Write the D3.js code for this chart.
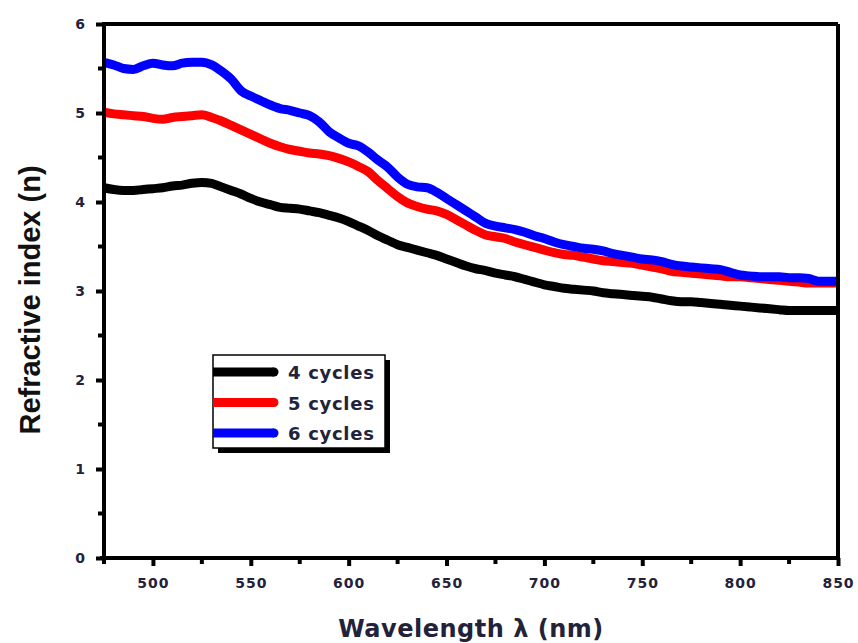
<!DOCTYPE html>
<html><head><meta charset="utf-8">
<script src="https://cdn.jsdelivr.net/npm/d3@7"></script>
<style>body{margin:0;background:#fff}svg{display:block}</style>
</head><body>
<svg id="c" width="858" height="643"></svg>
<script>
const wavelengths = d3.range(475, 851, 5);
const seriesNames = ["4 cycles", "5 cycles", "6 cycles"];
const seriesColors = ["#000000", "#ff0000", "#0000ff"];
const n4 = [4.16,4.14,4.13,4.13,4.14,4.15,4.16,4.18,4.19,4.21,4.22,4.21,4.17,4.13,4.09,4.04,4.00,3.97,3.94,3.93,3.92,3.90,3.88,3.85,3.82,3.78,3.73,3.68,3.62,3.57,3.52,3.49,3.46,3.43,3.40,3.36,3.32,3.28,3.25,3.23,3.20,3.18,3.16,3.13,3.10,3.07,3.05,3.03,3.02,3.01,3.00,2.98,2.97,2.96,2.95,2.94,2.93,2.91,2.89,2.88,2.88,2.87,2.86,2.85,2.84,2.83,2.82,2.81,2.80,2.79,2.78,2.78,2.78,2.78,2.78,2.78];
const n5 = [5.01,4.99,4.98,4.97,4.96,4.94,4.93,4.95,4.96,4.97,4.98,4.95,4.91,4.86,4.81,4.76,4.71,4.66,4.62,4.59,4.57,4.55,4.54,4.52,4.49,4.45,4.40,4.34,4.24,4.15,4.06,3.99,3.95,3.92,3.90,3.86,3.80,3.74,3.68,3.63,3.61,3.59,3.55,3.52,3.49,3.46,3.43,3.41,3.40,3.38,3.36,3.34,3.33,3.32,3.31,3.29,3.27,3.25,3.22,3.21,3.20,3.19,3.18,3.17,3.16,3.16,3.15,3.14,3.13,3.12,3.11,3.10,3.09,3.09,3.09,3.09];
const n6 = [5.57,5.54,5.50,5.49,5.53,5.56,5.54,5.53,5.56,5.57,5.57,5.54,5.47,5.38,5.25,5.19,5.14,5.09,5.05,5.03,5.00,4.97,4.90,4.79,4.72,4.66,4.63,4.56,4.47,4.39,4.28,4.20,4.17,4.16,4.11,4.04,3.97,3.90,3.83,3.76,3.73,3.71,3.69,3.66,3.62,3.59,3.55,3.52,3.50,3.48,3.47,3.45,3.42,3.40,3.38,3.36,3.35,3.33,3.30,3.28,3.27,3.26,3.25,3.24,3.21,3.18,3.17,3.16,3.16,3.16,3.15,3.15,3.14,3.11,3.11,3.11];
const xTicks = [500, 550, 600, 650, 700, 750, 800, 850];
const xMinor = [475, 525, 575, 625, 675, 725, 775, 825];
const yTicks = [0, 1, 2, 3, 4, 5, 6];
const yMinor = [0.5, 1.5, 2.5, 3.5, 4.5, 5.5];
const xTitle = "Wavelength λ (nm)";
const yTitle = "Refractive index (n)";

const svg = d3.select("#c");
const L = 104, R = 838, T = 24, B = 558;
const x = d3.scaleLinear().domain([475, 850]).range([L, R]);
const y = d3.scaleLinear().domain([0, 6]).range([B, T]);
const labelColor = "#22223a";
const tahoma = "'DejaVu Sans', Verdana, sans-serif";
const arial = "'Liberation Sans', Arial, sans-serif";

const series = [n4, n5, n6];
const line = d3.line().x(d => x(d[0])).y(d => y(d[1])).curve(d3.curveMonotoneX);
series.forEach((vals, i) => {
  svg.append("path").datum(wavelengths.map((w, j) => [w, vals[j]]))
    .attr("d", line).attr("fill", "none").attr("stroke", seriesColors[i])
    .attr("stroke-width", 9).attr("stroke-linejoin", "round");
});

// frame
svg.append("line").attr("x1", L).attr("x2", R).attr("y1", T).attr("y2", T).attr("stroke", "#000").attr("stroke-width", 4);
svg.append("line").attr("x1", R).attr("x2", R).attr("y1", T).attr("y2", B).attr("stroke", "#000").attr("stroke-width", 4);

const xAxis = svg.append("g").attr("transform", `translate(0,${B})`)
  .call(d3.axisBottom(x).tickValues(xTicks).tickSize(8).tickFormat(d3.format("d")));
xAxis.select(".domain").attr("stroke-width", 4).attr("d", `M${L - 4},0H${R + 2}`);
xAxis.selectAll(".tick line").attr("stroke-width", 4);
xAxis.selectAll(".tick text").attr("y", 20).attr("dy", "0.71em").style("font-family", tahoma)
  .style("font-size", "14px").style("font-weight", "bold").attr("fill", labelColor).style("letter-spacing", "1px");
xAxis.selectAll(".minor").data(xMinor).enter().append("line")
  .attr("x1", d => x(d)).attr("x2", d => x(d)).attr("y1", 0).attr("y2", 6)
  .attr("stroke", "#000").attr("stroke-width", 4);

const yAxis = svg.append("g").attr("transform", `translate(${L},0)`)
  .call(d3.axisLeft(y).tickValues(yTicks).tickSize(8).tickFormat(d3.format("d")));
yAxis.select(".domain").attr("stroke-width", 4).attr("d", `M0,${T - 2}V${B + 2}`);
yAxis.selectAll(".tick line").attr("stroke-width", 4);
yAxis.selectAll(".tick text").attr("x", -19).style("font-family", tahoma)
  .style("font-size", "14px").style("font-weight", "bold").attr("fill", labelColor);
yAxis.selectAll(".minor").data(yMinor).enter().append("line")
  .attr("x1", 0).attr("x2", -6).attr("y1", d => y(d)).attr("y2", d => y(d))
  .attr("stroke", "#000").attr("stroke-width", 4);

// titles
svg.append("text").attr("x", 471).attr("y", 637).attr("text-anchor", "middle").style("font-family", tahoma)
  .style("font-size", "24px").style("font-weight", "bold").attr("fill", labelColor)
  .style("letter-spacing", "0.5px").text(xTitle);
svg.append("text").attr("transform", "translate(40,300) rotate(-90)").attr("text-anchor", "middle")
  .style("font-family", arial).style("font-size", "29px").style("font-weight", "bold").attr("fill", "#111").text(yTitle);

// legend
const lg = svg.append("g");
const lx = 213, ly = 355, lw = 172, lh = 93;
lg.append("rect").attr("x", lx + 5).attr("y", ly + 5).attr("width", lw).attr("height", lh).attr("fill", "#000");
lg.append("rect").attr("x", lx).attr("y", ly).attr("width", lw).attr("height", lh).attr("fill", "#fff").attr("stroke", "#000").attr("stroke-width", 1.5);
seriesNames.forEach((name, i) => {
  const yy = ly + 17 + i * 30.5;
  lg.append("line").attr("x1", lx).attr("x2", lx + 61).attr("y1", yy).attr("y2", yy)
    .attr("stroke", seriesColors[i]).attr("stroke-width", 9);
  lg.append("circle").attr("cx", lx + 61).attr("cy", yy).attr("r", 4.5).attr("fill", seriesColors[i]);
  lg.append("text").attr("x", lx + 75).attr("y", yy + 7).style("font-family", tahoma).style("font-size", "18px").style("font-weight", "bold")
    .style("letter-spacing", "0.7px").attr("fill", labelColor).text(name);
});
</script>
</body></html>
